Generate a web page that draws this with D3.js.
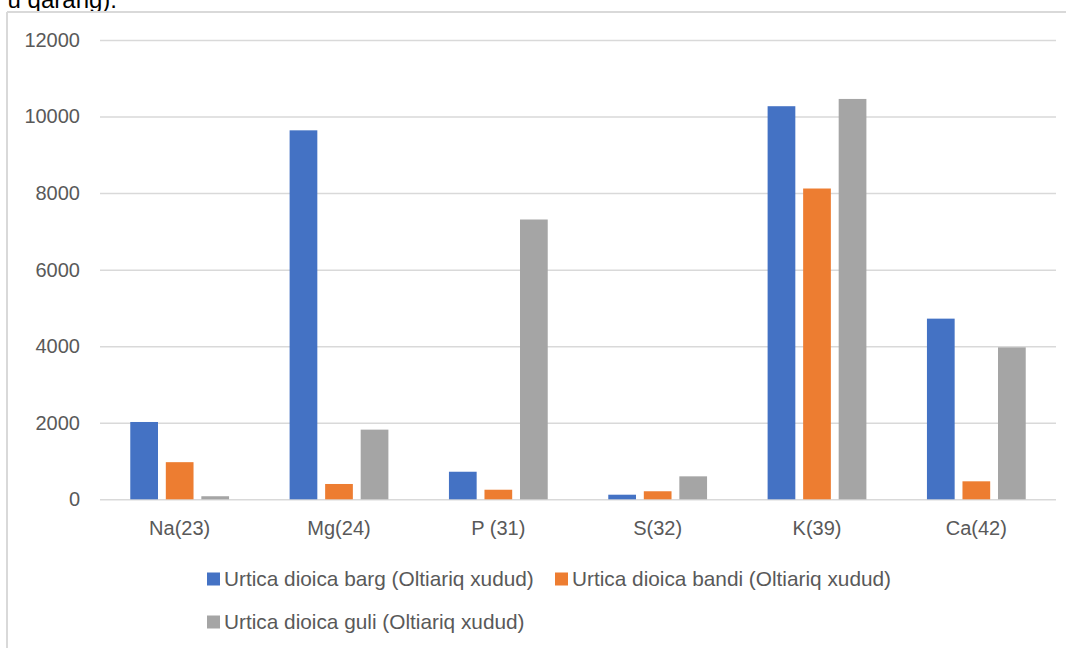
<!DOCTYPE html>
<html>
<head>
<meta charset="utf-8">
<script src="https://cdn.jsdelivr.net/npm/d3@7"></script>
<style>
  body { margin: 0; background: #fff; }
  svg { display: block; font-family: "Liberation Sans", Arial, sans-serif; }
</style>
</head>
<body>
<div id="chart-area"></div>
<script>
// element data
const categories = ["Na(23)", "Mg(24)", "P (31)", "S(32)", "K(39)", "Ca(42)"]
const seriesNames = [
  "Urtica dioica barg (Oltiariq xudud)",
  "Urtica dioica bandi (Oltiariq xudud)",
  "Urtica dioica guli (Oltiariq xudud)"
]
const barg = [2020, 9640, 720, 120, 10270, 4720]
const bandi = [970, 400, 250, 210, 8120, 470]
const guli = [80, 1820, 7310, 600, 10460, 3970]
const yTicks = [0, 2000, 4000, 6000, 8000, 10000, 12000]
const colors = ["#4472C4", "#ED7D31", "#A5A5A5"]

const seriesValues = [barg, bandi, guli]
const rows = categories.map((c, i) => ({
  cat: c,
  vals: seriesValues.map((s, j) => ({ key: seriesNames[j], v: s[i], j: j }))
}))

const W = 1066, H = 648
const svg = d3.select("#chart-area").append("svg")
  .attr("width", W)
  .attr("height", H)

// bit of the page text above the chart (cut off at the top, as in the source)
svg.append("text")
  .attr("x", 117).attr("y", 8)
  .attr("text-anchor", "end")
  .attr("font-size", 24)
  .attr("fill", "#000")
  .text("u qarang).")

// chart frame (only top and left show)
svg.append("line").attr("x1", 7).attr("x2", W).attr("y1", 12).attr("y2", 12)
  .attr("stroke", "#d9d9d9").attr("stroke-width", 2)
svg.append("line").attr("x1", 7).attr("x2", 7).attr("y1", 12).attr("y2", H)
  .attr("stroke", "#d9d9d9").attr("stroke-width", 2)

const plotL = 100, plotR = 1056, plotT = 40, plotB = 499.3

const y = d3.scaleLinear().domain([0, 12000]).range([plotB, plotT])
const x0 = d3.scaleBand().domain(categories).range([plotL, plotR])
  .paddingInner(0.38).paddingOuter(0.19)
const x1 = d3.scaleBand().domain(seriesNames).range([0, x0.bandwidth()])
  .paddingInner(0.22).paddingOuter(0)

// gridlines + tick labels
const yAxis = d3.axisLeft(y).tickValues(yTicks).tickFormat(d3.format("d"))
  .tickSize(-(plotR - plotL)).tickPadding(20)
const gy = svg.append("g").attr("transform", `translate(${plotL},0)`).call(yAxis)
gy.select(".domain").remove()
gy.selectAll(".tick line").attr("stroke", "#d9d9d9").attr("stroke-width", 1.5)
gy.selectAll(".tick text")
  .attr("fill", "#595959")
  .attr("font-size", 20)
  .attr("font-family", "Liberation Sans, Arial, sans-serif")

// category labels
const xAxis = d3.axisBottom(x0).tickSize(0).tickPadding(22)
const gx = svg.append("g").attr("transform", `translate(0,${plotB})`).call(xAxis)
gx.select(".domain").remove()
gx.selectAll(".tick text")
  .attr("fill", "#595959")
  .attr("font-size", 20)
  .attr("font-family", "Liberation Sans, Arial, sans-serif")

// bars
const groups = svg.selectAll("g.grp")
  .data(rows)
  .enter().append("g")
  .attr("class", "grp")
  .attr("transform", d => `translate(${x0(d.cat)},0)`)

groups.selectAll("rect")
  .data(d => d.vals)
  .enter().append("rect")
  .attr("x", d => x1(d.key))
  .attr("width", x1.bandwidth())
  .attr("y", d => y(d.v))
  .attr("height", d => y(0) - y(d.v))
  .attr("fill", d => colors[d.j])

// legend
const legendPos = [[207, 579], [555, 579], [207, 622]]
const leg = svg.selectAll("g.leg")
  .data(seriesNames)
  .enter().append("g")
  .attr("class", "leg")
  .attr("transform", (d, i) => `translate(${legendPos[i][0]},${legendPos[i][1]})`)

leg.append("rect")
  .attr("x", 0).attr("y", -6.5)
  .attr("width", 13).attr("height", 13)
  .attr("fill", (d, i) => colors[i])

leg.append("text")
  .attr("x", 17).attr("y", 7)
  .attr("font-size", 20.8)
  .attr("fill", "#595959")
  .text(d => d)
</script>
</body>
</html>
